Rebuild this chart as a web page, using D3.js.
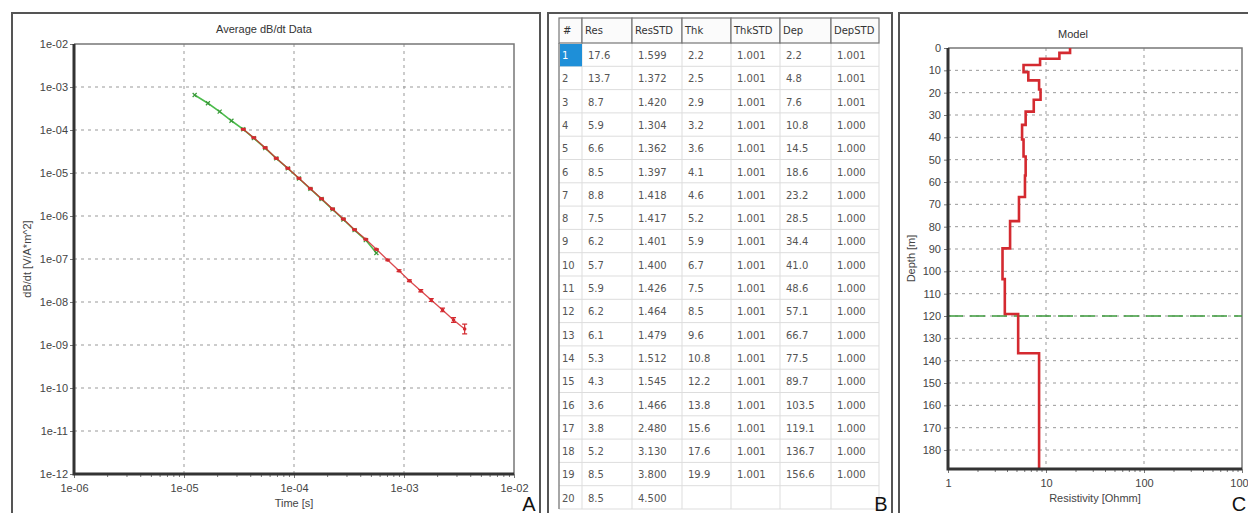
<!DOCTYPE html>
<html>
<head>
<meta charset="utf-8">
<script src="https://cdn.jsdelivr.net/npm/d3@7"></script>
<style>
  body { margin: 0; background: #fff; }
  svg { display: block; font-family: "Liberation Sans", Arial, sans-serif; }
  .tick text { fill: #444; font-size: 11px; }
  .tbl text { font-family: "DejaVu Sans", Verdana, sans-serif; font-size: 10px; }
</style>
</head>
<body>
<svg width="1248" height="513"></svg>
<script>
// ---- panel A: averaged dB/dt sounding (red = data w/ error bars, green = model response)
const timeRed = [3.46e-5, 4.31e-5, 5.47e-5, 6.90e-5, 8.79e-5, 1.11e-4, 1.41e-4, 1.78e-4, 2.24e-4, 2.81e-4, 3.55e-4,
  4.49e-4, 5.61e-4, 7.10e-4, 9.02e-4, 1.12e-3, 1.42e-3, 1.77e-3, 2.24e-3, 2.82e-3, 3.56e-3];
const dbdtRed = [1.04e-4, 6.62e-5, 3.87e-5, 2.20e-5, 1.29e-5, 7.53e-6, 4.32e-6, 2.52e-6, 1.46e-6, 8.51e-7, 4.80e-7,
  2.87e-7, 1.68e-7, 9.48e-8, 5.35e-8, 3.13e-8, 1.83e-8, 1.11e-8, 6.52e-9, 3.81e-9, 2.36e-9];
const relErrRed = [0.03, 0.03, 0.03, 0.03, 0.03, 0.03, 0.03, 0.03, 0.03, 0.03, 0.03, 0.03, 0.03,
  0.04, 0.05, 0.05, 0.06, 0.08, 0.1, 0.14, 0.3];
const timeGreen = [1.25e-5, 1.65e-5, 2.11e-5, 2.70e-5, 3.46e-5, 4.31e-5, 5.47e-5, 6.90e-5, 8.79e-5, 1.11e-4,
  1.41e-4, 1.78e-4, 2.24e-4, 2.81e-4, 3.55e-4, 4.49e-4, 5.61e-4];
const dbdtGreen = [6.52e-4, 4.18e-4, 2.67e-4, 1.64e-4, 1.04e-4, 6.45e-5, 3.80e-5, 2.18e-5, 1.28e-5, 7.45e-6,
  4.28e-6, 2.48e-6, 1.43e-6, 8.30e-7, 4.70e-7, 2.75e-7, 1.38e-7];
const timeTicks = [1e-6, 1e-5, 1e-4, 1e-3, 1e-2];
const dbdtTicks = [1e-2, 1e-3, 1e-4, 1e-5, 1e-6, 1e-7, 1e-8, 1e-9, 1e-10, 1e-11, 1e-12];

// ---- panel B: layer table
const layerNo = [1, 2, 3, 4, 5, 6, 7, 8, 9, 10, 11, 12, 13, 14, 15, 16, 17, 18, 19, 20];
const res = [17.6, 13.7, 8.7, 5.9, 6.6, 8.5, 8.8, 7.5, 6.2, 5.7, 5.9, 6.2, 6.1, 5.3, 4.3, 3.6, 3.8, 5.2, 8.5, 8.5];
const resStd = [1.599, 1.372, 1.420, 1.304, 1.362, 1.397, 1.418, 1.417, 1.401, 1.400, 1.426, 1.464, 1.479, 1.512,
  1.545, 1.466, 2.480, 3.130, 3.800, 4.500];
const thk = [2.2, 2.5, 2.9, 3.2, 3.6, 4.1, 4.6, 5.2, 5.9, 6.7, 7.5, 8.5, 9.6, 10.8, 12.2, 13.8, 15.6, 17.6, 19.9, null];
const thkStd = [1.001, 1.001, 1.001, 1.001, 1.001, 1.001, 1.001, 1.001, 1.001, 1.001, 1.001, 1.001, 1.001, 1.001,
  1.001, 1.001, 1.001, 1.001, 1.001, null];
const dep = [2.2, 4.8, 7.6, 10.8, 14.5, 18.6, 23.2, 28.5, 34.4, 41.0, 48.6, 57.1, 66.7, 77.5, 89.7, 103.5, 119.1,
  136.7, 156.6, null];
const depStd = [1.001, 1.001, 1.001, 1.000, 1.000, 1.000, 1.000, 1.000, 1.000, 1.000, 1.000, 1.000, 1.000, 1.000,
  1.000, 1.000, 1.000, 1.000, 1.000, null];
const headers = ["#", "Res", "ResSTD", "Thk", "ThkSTD", "Dep", "DepSTD"];

// ---- panel C: model
const depthTicks = [0, 10, 20, 30, 40, 50, 60, 70, 80, 90, 100, 110, 120, 130, 140, 150, 160, 170, 180];
const resTicks = [1, 10, 100, 1000];
const doiDepth = 120;
const maxDepth = 188.5;

const svg = d3.select("svg");
const red = "#d42a30", green = "#4cbb4c";

function expFmt(d) {
  const e = Math.round(Math.log10(d));
  return "1e" + (e < 0 ? "-" : "+") + String(Math.abs(e)).padStart(2, "0");
}
function minors(lo, hi) { // 2..9 within each decade
  const out = [];
  for (let e = lo; e < hi; e++) for (let k = 2; k < 10; k++) out.push(k * Math.pow(10, e));
  return out;
}

// outer panel frames
[[12, 528], [548, 344], [899, 360]].forEach(([x, w]) => {
  svg.append("rect").attr("x", x).attr("y", 13).attr("width", w).attr("height", 520)
    .attr("fill", "none").attr("stroke", "#555").attr("stroke-width", 2);
});

// =========== A ===========
const A = { l: 74, r: 514, t: 44, b: 474 };
const xA = d3.scaleLog().domain([1e-6, 1e-2]).range([A.l, A.r]);
const yA = d3.scaleLog().domain([1e-12, 1e-2]).range([A.b, A.t]);
const gA = svg.append("g");

gA.append("text").attr("x", 264).attr("y", 33).attr("text-anchor", "middle")
  .attr("font-size", 11).attr("fill", "#333").text("Average dB/dt Data");

// grid
gA.selectAll(".gx").data(timeTicks.slice(1, -1)).join("line")
  .attr("x1", d => xA(d)).attr("x2", d => xA(d)).attr("y1", A.t).attr("y2", A.b)
  .attr("stroke", "#999").attr("stroke-dasharray", "3,4");
gA.selectAll(".gy").data(dbdtTicks.slice(1, -1)).join("line")
  .attr("y1", d => yA(d)).attr("y2", d => yA(d)).attr("x1", A.l).attr("x2", A.r)
  .attr("stroke", "#999").attr("stroke-dasharray", "3,4");

// frame of plot
gA.append("path").attr("d", `M${A.l},${A.t}H${A.r}V${A.b}`).attr("fill", "none").attr("stroke", "#777").attr("stroke-width", 1.5);

gA.append("g").attr("transform", `translate(0,${A.b})`)
  .call(d3.axisBottom(xA).tickValues(timeTicks).tickFormat(expFmt).tickSize(4).tickPadding(6));
gA.append("g").attr("transform", `translate(0,${A.b})`)
  .call(d3.axisBottom(xA).tickValues(minors(-6, -2)).tickFormat("").tickSize(3));
gA.append("g").attr("transform", `translate(${A.l},0)`)
  .call(d3.axisLeft(yA).tickValues(dbdtTicks).tickFormat(expFmt).tickSize(4).tickPadding(2));
gA.selectAll(".domain").remove();
gA.selectAll(".tick line").attr("stroke", "#777");
gA.append("path").attr("d", `M${A.l},${A.t}V${A.b}H${A.r}`).attr("fill", "none").attr("stroke", "#333").attr("stroke-width", 3);

gA.append("text").attr("x", xA(1e-4)).attr("y", 507).attr("text-anchor", "middle")
  .attr("font-size", 11).attr("fill", "#444").text("Time [s]");
gA.append("text").attr("transform", `translate(31,${(A.t + A.b) / 2}) rotate(-90)`).attr("text-anchor", "middle")
  .attr("font-size", 11).attr("fill", "#444").text("dB/dt [V/A*m^2]");

// series
const green_pts = timeGreen.map((t, i) => [t, dbdtGreen[i]]);
const red_pts = timeRed.map((t, i) => [t, dbdtRed[i], relErrRed[i]]);
const lineA = d3.line().x(d => xA(d[0])).y(d => yA(d[1]));

gA.append("path").datum(green_pts).attr("d", lineA).attr("fill", "none").attr("stroke", green).attr("stroke-width", 1.6);
gA.selectAll(".gm").data(green_pts).join("path")
  .attr("d", d => { const x = xA(d[0]), y = yA(d[1]); return `M${x - 2},${y - 2}L${x + 2},${y + 2}M${x - 2},${y + 2}L${x + 2},${y - 2}`; })
  .attr("stroke", "#3a9a3a").attr("stroke-width", 1.2);

gA.append("path").datum(red_pts).attr("d", lineA).attr("fill", "none").attr("stroke", red)
  .attr("stroke-width", 1.3).attr("stroke-opacity", 0.85);
gA.selectAll(".eb").data(red_pts).join("path")
  .attr("d", d => {
    const x = xA(d[0]), y1 = yA(d[1] * (1 + d[2])), y2 = yA(d[1] / (1 + d[2]));
    return `M${x},${y1}V${y2}M${x - 2.5},${y1}H${x + 2.5}M${x - 2.5},${y2}H${x + 2.5}`;
  })
  .attr("stroke", red).attr("stroke-width", 1.2).attr("fill", "none");
gA.selectAll(".rm").data(red_pts).join("circle")
  .attr("cx", d => xA(d[0])).attr("cy", d => yA(d[1])).attr("r", 1.8).attr("fill", red);

// =========== B ===========
const colEdges = [559, 582, 632, 682, 731, 780, 831, 879];
const headTop = 18, headBot = 43;
const yB = d3.scaleBand().domain(layerNo).range([headBot, headBot + 20 * 23.3]);
const gB = svg.append("g").attr("class", "tbl");

const rows = layerNo.map((n, i) => [
  String(n), res[i].toFixed(1), resStd[i].toFixed(3),
  thk[i] == null ? "" : thk[i].toFixed(1),
  thkStd[i] == null ? "" : thkStd[i].toFixed(3),
  dep[i] == null ? "" : dep[i].toFixed(1),
  depStd[i] == null ? "" : depStd[i].toFixed(3)
]);

// body grid
layerNo.forEach(n => {
  gB.append("line").attr("x1", colEdges[0]).attr("x2", colEdges[7])
    .attr("y1", yB(n) + yB.bandwidth()).attr("y2", yB(n) + yB.bandwidth()).attr("stroke", "#ddd");
});
colEdges.forEach((x, j) => {
  gB.append("line").attr("x1", x).attr("x2", x).attr("y1", headBot).attr("y2", yB(20) + yB.bandwidth())
    .attr("stroke", j === 0 ? "#888" : "#ddd").attr("stroke-width", j === 0 ? 1.5 : 1);
});
// selected cell
gB.append("rect").attr("x", colEdges[0] + 1).attr("y", yB(1) + 1).attr("width", colEdges[1] - colEdges[0] - 1)
  .attr("height", yB.bandwidth() - 1).attr("fill", "#1e8fd8");

// header
headers.forEach((h, j) => {
  gB.append("rect").attr("x", colEdges[j]).attr("y", headTop).attr("width", colEdges[j + 1] - colEdges[j])
    .attr("height", headBot - headTop).attr("fill", "#fbfbfb").attr("stroke", "#777").attr("stroke-width", 1.2);
  gB.append("text").attr("x", colEdges[j] + (j === 0 ? 4 : 3)).attr("y", 34).attr("fill", "#333").text(h);
});

rows.forEach((r, i) => {
  r.forEach((v, j) => {
    gB.append("text").attr("x", colEdges[j] + (j === 0 ? 3 : 6)).attr("y", yB(layerNo[i]) + 16)
      .attr("fill", i === 0 && j === 0 ? "#fff" : "#555").text(v);
  });
});

// =========== C ===========
const C = { l: 948, r: 1242, t: 48, b: 469 };
const xC = d3.scaleLog().domain([1, 1000]).range([C.l, C.r]);
const yC = d3.scaleLinear().domain([0, maxDepth]).range([C.t, C.b]);
const gC = svg.append("g");

gC.append("text").attr("x", 1073).attr("y", 38).attr("text-anchor", "middle")
  .attr("font-size", 11).attr("fill", "#333").text("Model");

gC.selectAll(".gx").data(resTicks.slice(1, -1)).join("line")
  .attr("x1", d => xC(d)).attr("x2", d => xC(d)).attr("y1", C.t).attr("y2", C.b)
  .attr("stroke", "#999").attr("stroke-dasharray", "3,4");
gC.selectAll(".gy").data(depthTicks.slice(1)).join("line")
  .attr("y1", d => yC(d)).attr("y2", d => yC(d)).attr("x1", C.l).attr("x2", C.r)
  .attr("stroke", "#999").attr("stroke-dasharray", "3,4");
gC.append("path").attr("d", `M${C.l},${C.t}H${C.r}V${C.b}`).attr("fill", "none").attr("stroke", "#777").attr("stroke-width", 1.5);

gC.append("g").attr("transform", `translate(0,${C.b})`)
  .call(d3.axisBottom(xC).tickValues(resTicks).tickFormat(d3.format("d")).tickSize(4).tickPadding(6));
gC.append("g").attr("transform", `translate(0,${C.b})`)
  .call(d3.axisBottom(xC).tickValues(minors(0, 3)).tickFormat("").tickSize(3));
gC.append("g").attr("transform", `translate(${C.l},0)`)
  .call(d3.axisLeft(yC).tickValues(depthTicks).tickSize(4).tickPadding(3));
gC.selectAll(".domain").remove();
gC.selectAll(".tick line").attr("stroke", "#777");

// depth of investigation line
gC.append("line").attr("x1", C.l).attr("x2", C.r).attr("y1", yC(doiDepth)).attr("y2", yC(doiDepth))
  .attr("stroke", "#3c9a3c").attr("stroke-width", 1.5).attr("stroke-dasharray", "15,7");

// step profile
const prof = [];
res.forEach((r, i) => {
  const top = i === 0 ? 0 : dep[i - 1];
  const bot = dep[i] == null ? maxDepth : dep[i];
  prof.push([r, top], [r, bot]);
});
gC.append("path").datum(prof)
  .attr("d", d3.line().x(d => xC(d[0])).y(d => yC(d[1])))
  .attr("fill", "none").attr("stroke", red).attr("stroke-width", 2.6);

gC.append("path").attr("d", `M${C.l},${C.t}V${C.b}H${C.r}`).attr("fill", "none").attr("stroke", "#333").attr("stroke-width", 3);

gC.append("text").attr("x", (C.l + C.r) / 2).attr("y", 502).attr("text-anchor", "middle")
  .attr("font-size", 11).attr("fill", "#444").text("Resistivity [Ohmm]");
gC.append("text").attr("transform", `translate(915,${(C.t + C.b) / 2}) rotate(-90)`).attr("text-anchor", "middle")
  .attr("font-size", 11).attr("fill", "#444").text("Depth [m]");

// panel letters
[["A", 529], ["B", 881], ["C", 1239]].forEach(([t, x]) => {
  svg.append("text").attr("x", x).attr("y", 511).attr("text-anchor", "middle")
    .attr("font-size", 20).attr("fill", "#111").text(t);
});
</script>
</body>
</html>
